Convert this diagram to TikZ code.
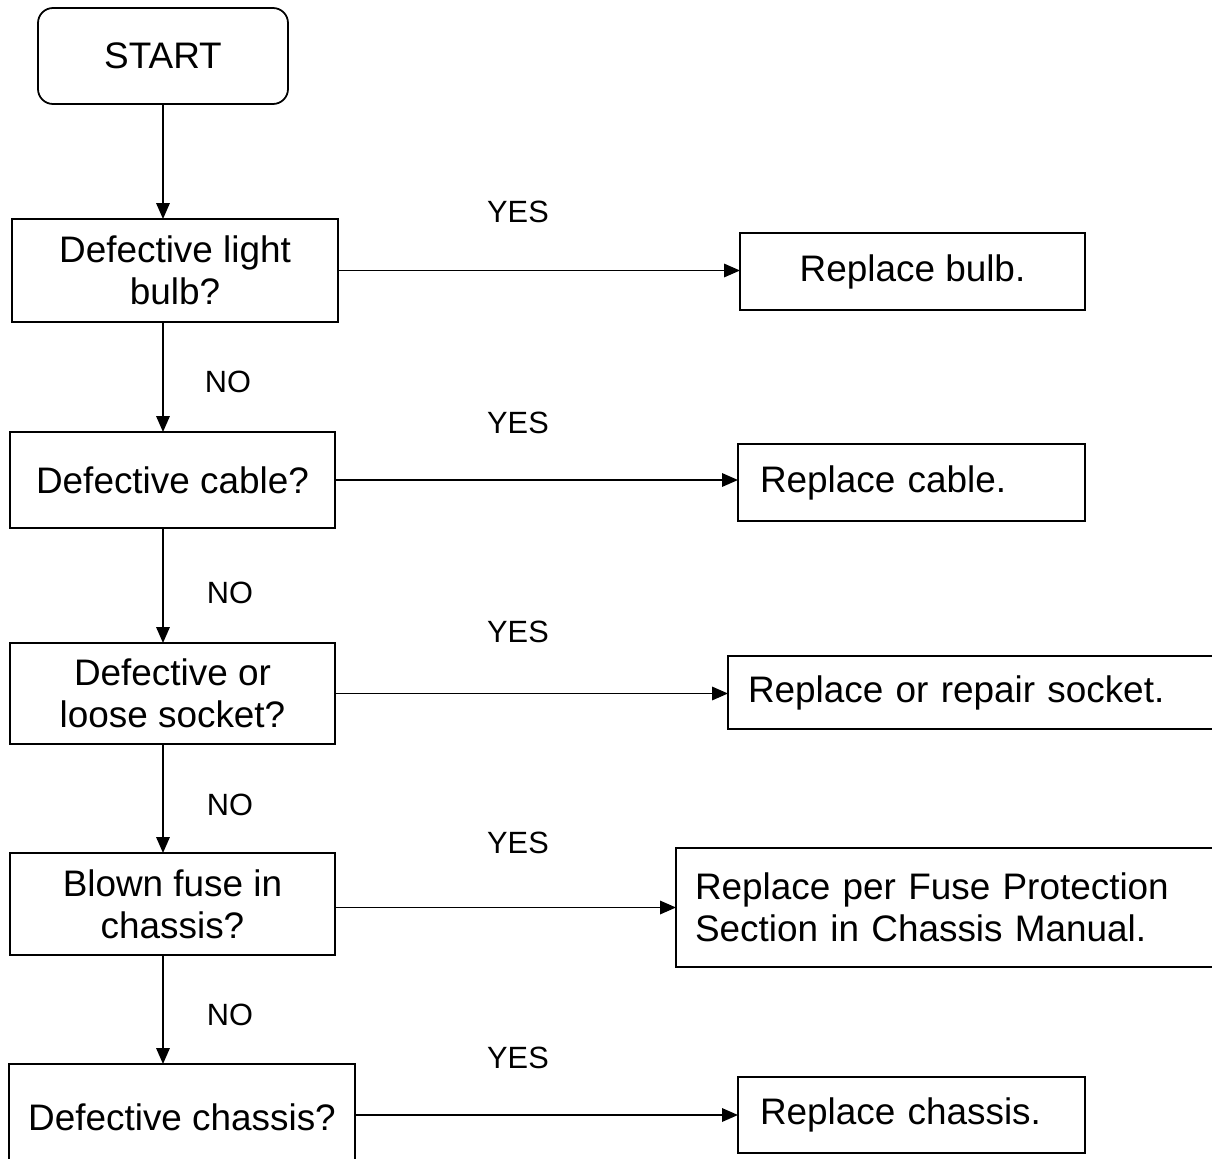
\documentclass[tikz,border=0pt]{standalone}
\usepackage{fontspec}
\setmainfont{Liberation Sans}
\usetikzlibrary{arrows.meta}
\begin{document}
\begin{tikzpicture}[x=0.2mm,y=-0.2mm,
  box/.style={draw, line width=1pt, rectangle, outer sep=0pt, inner sep=0pt,
    font=\fontsize{21}{24}\selectfont, align=center},
  rbox/.style={box, anchor=north west, align=left, inner xsep=4.4mm, text width=60.6mm},
  lab/.style={font=\fontsize{17.5}{20}\selectfont, inner sep=0pt},
  arr/.style={line width=1pt, -{Triangle[length=3.2mm,width=2.7mm]}}]
\clip (0,0) rectangle (1212,1159);
\fill[white] (0,0) rectangle (1212,1159);
% left column
\node[box, rounded corners=3mm, minimum width=50mm, minimum height=19.2mm] (start) at (163,56) {START};
\node[box, minimum width=65.2mm, minimum height=20.6mm] (b1) at (175,270.5) {Defective light\\bulb?};
\node[box, minimum width=65mm, minimum height=19.2mm] (b2) at (172.5,480) {Defective cable?};
\node[box, minimum width=65mm, minimum height=20.2mm] (b3) at (172.5,693.5) {Defective or\\loose socket?};
\node[box, minimum width=65mm, minimum height=20.4mm] (b4) at (172.5,904) {Blown fuse in\\chassis?};
\node[box, minimum width=69.2mm, minimum height=21.2mm] (b5) at (182,1117) {Defective chassis?};
% right column
\node[box, anchor=north west, minimum width=69mm, minimum height=15.4mm] (r1) at (740,233) {Replace bulb.};
\node[rbox, minimum height=15.4mm] (r2) at (738,444) {Replace cable.};
\node[rbox, inner xsep=4mm, text width=92mm, minimum height=14.6mm] (r3) at (728,656) {Replace or repair socket.};
\node[rbox, inner xsep=3.8mm, text width=104.4mm, minimum height=23.8mm] (r4) at (676,848) {Replace per Fuse Protection\\Section in Chassis Manual.};
\node[rbox, minimum height=15.2mm] (r5) at (738,1077) {Replace chassis.};
% labels
\node[lab] (y1) at (518,212) {YES};
\node[lab] (y2) at (518,423) {YES};
\node[lab] (y3) at (518,632) {YES};
\node[lab] (y4) at (518,843) {YES};
\node[lab] (y5) at (518,1058) {YES};
\node[lab] (n1) at (228,382) {NO};
\node[lab] (n2) at (230,593) {NO};
\node[lab] (n3) at (230,805) {NO};
\node[lab] (n4) at (230,1015) {NO};
% vertical connectors
\draw[arr] (start.south) -- (start.south |- b1.north);
\draw[arr] (start.south |- b1.south) -- (start.south |- b2.north);
\draw[arr] (start.south |- b2.south) -- (start.south |- b3.north);
\draw[arr] (start.south |- b3.south) -- (start.south |- b4.north);
\draw[arr] (start.south |- b4.south) -- (start.south |- b5.north);
% horizontal connectors
\draw[arr] (b1.east) -- (b1.east -| r1.west);
\draw[arr] (b2.east) -- (b2.east -| r2.west);
\draw[arr] (b3.east) -- (b3.east -| r3.west);
\draw[arr] (r4.west -| b4.east) -- (r4.west);
\draw[arr] (r5.west -| b5.east) -- (r5.west);
\end{tikzpicture}
\end{document}
